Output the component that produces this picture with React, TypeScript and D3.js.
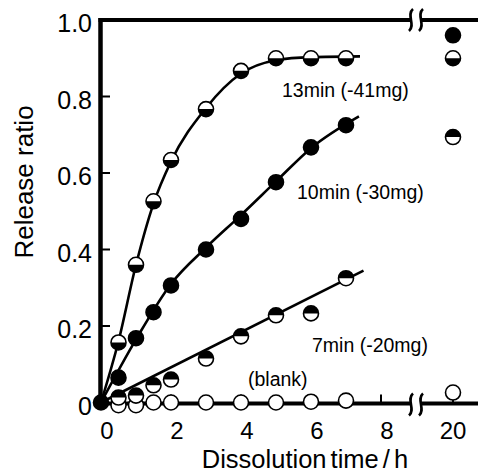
import React from "react";
import * as d3 from "d3";

// ---- data ----
const times = [0.5, 1, 1.5, 2, 3, 4, 5, 6, 7];
const longTime = 20;
const rel13 = [0.157, 0.36, 0.526, 0.634, 0.767, 0.867, 0.9, 0.9, 0.9];
const rel13Long = 0.9;
const rel10 = [0.065, 0.168, 0.236, 0.306, 0.4, 0.48, 0.576, 0.667, 0.725];
const rel10Long = 0.96;
const rel7 = [0.013, 0.018, 0.045, 0.06, 0.115, 0.173, 0.228, 0.233, 0.325];
const rel7Long = 0.694;
const relBlank = [-0.007, -0.007, 0, 0, 0, 0, 0, 0.002, 0.005];
const relBlankLong = 0.026;

const fit13T = [0, 0.5, 1, 1.5, 2, 3, 4, 5, 6, 7.4];
const fit13V = [0, 0.16, 0.36, 0.52, 0.63, 0.77, 0.86, 0.895, 0.903, 0.905];
const fit10T = [0, 1, 2, 3, 4, 5, 6, 7.37];
const fit10V = [0, 0.165, 0.31, 0.405, 0.49, 0.578, 0.665, 0.748];
const fit7T = [0, 7.5];
const fit7V = [0, 0.345];

const yTicks = [0, 0.2, 0.4, 0.6, 0.8, 1.0];
const yTickLabels = ["0", "0.2", "0.4", "0.6", "0.8", "1.0"];
const xTicks = [0, 2, 4, 6, 8];
const xTicksLong = [20];

const seriesLabels = ["13min (-41mg)", "10min (-30mg)", "7min (-20mg)", "(blank)"];

const FONT = "'Liberation Sans', Arial, Helvetica, sans-serif";

export default function App() {
  const W = 478, H = 473;
  const x = d3.scaleLinear().domain([0, 9]).range([101, 416]);
  const xR = d3.scaleLinear().domain([19, 21]).range([418, 488]);
  const y = d3.scaleLinear().domain([0, 1]).range([402.5, 20]);
  const R = 7.5;
  const breakL = 411, breakR = 421;

  const line = d3
    .line<[number, number]>()
    .x((d) => x(d[0]))
    .y((d) => y(d[1]))
    .curve(d3.curveMonotoneX);

  const fit13 = fit13T.map((t, i) => [t, fit13V[i]] as [number, number]);
  const fit10 = fit10T.map((t, i) => [t, fit10V[i]] as [number, number]);
  const fit7 = fit7T.map((t, i) => [t, fit7V[i]] as [number, number]);

  type Kind = "open" | "filled" | "bottom" | "top";
  const marker = (cx: number, cy: number, kind: Kind, key: string) => {
    const half =
      kind === "bottom"
        ? `M${-R},0 A${R},${R} 0 0 0 ${R},0 Z`
        : `M${-R},0 A${R},${R} 0 0 1 ${R},0 Z`;
    return (
      <g key={key} transform={`translate(${cx},${cy})`}>
        <circle r={R} fill={kind === "filled" ? "#000" : "#fff"} />
        {(kind === "bottom" || kind === "top") && <path d={half} fill="#000" />}
        <circle r={R} fill="none" stroke="#000" strokeWidth={1.6} />
      </g>
    );
  };

  const breakMark = (cx: number, cy: number, key: string) => (
    <path
      key={key}
      d={`M${cx + 2},${cy - 11} C${cx - 5},${cy - 5} ${cx + 5},${cy + 5} ${cx - 2},${cy + 11}`}
      fill="none"
      stroke="#000"
      strokeWidth={2.6}
    />
  );

  const yTop = y(1);
  const yBot = y(0) + 1;

  return (
    <div style={{ position: "absolute", left: 0, top: 0 }}>
      <svg width={W} height={H} style={{ display: "block", background: "#fff" }}>
        {/* fit lines */}
        <path d={line(fit13) || ""} fill="none" stroke="#000" strokeWidth={2.6} />
        <path d={line(fit10) || ""} fill="none" stroke="#000" strokeWidth={2.6} />
        <path d={line(fit7) || ""} fill="none" stroke="#000" strokeWidth={2.6} />

        {/* axes */}
        <line x1={100.5} x2={100.5} y1={yTop - 2} y2={yBot + 2} stroke="#000" strokeWidth={4.5} />
        <line x1={98.5} x2={breakL} y1={yTop} y2={yTop} stroke="#000" strokeWidth={4} />
        <line x1={breakR} x2={W} y1={yTop} y2={yTop} stroke="#000" strokeWidth={4} />
        <line x1={98.5} x2={breakL} y1={yBot} y2={yBot} stroke="#000" strokeWidth={4} />
        <line x1={breakR} x2={W} y1={yBot} y2={yBot} stroke="#000" strokeWidth={4} />
        {breakMark(breakL, yTop, "bt1")}
        {breakMark(breakR, yTop, "bt2")}
        {breakMark(breakL, yBot + 1, "bb1")}
        {breakMark(breakR, yBot + 1, "bb2")}

        {/* y ticks */}
        {yTicks.map((v, i) => (
          <g key={"yt" + i}>
            {v > 0 && v < 1 && (
              <line x1={102} x2={110} y1={y(v)} y2={y(v)} stroke="#000" strokeWidth={2} />
            )}
            <text
              x={92}
              y={y(v) + 3}
              textAnchor="end"
              dominantBaseline="central"
              fontFamily={FONT}
              fontSize={25}
            >
              {yTickLabels[i]}
            </text>
          </g>
        ))}

        {/* x ticks */}
        {xTicks.map((v) => (
          <g key={"xt" + v}>
            {v > 0 && (
              <line x1={x(v)} x2={x(v)} y1={yBot} y2={yBot - 9} stroke="#000" strokeWidth={2} />
            )}
            <text x={x(v) + 6} y={439} textAnchor="middle" fontFamily={FONT} fontSize={24}>
              {v}
            </text>
          </g>
        ))}
        {xTicksLong.map((v) => (
          <g key={"xtl" + v}>
            <line x1={xR(v)} x2={xR(v)} y1={yBot} y2={yBot - 9} stroke="#000" strokeWidth={2} />
            <text x={xR(v)} y={439} textAnchor="middle" fontFamily={FONT} fontSize={24}>
              {v}
            </text>
          </g>
        ))}

        {/* markers */}
        {relBlank.map((v, i) => marker(x(times[i]), y(v), "open", "b" + i))}
        {marker(xR(longTime), y(relBlankLong), "open", "bl")}
        {rel7.map((v, i) => marker(x(times[i]), y(v), "top", "s7" + i))}
        {marker(xR(longTime), y(rel7Long), "top", "s7l")}
        {rel10.map((v, i) => marker(x(times[i]), y(v), "filled", "s10" + i))}
        {marker(xR(longTime), y(rel10Long), "filled", "s10l")}
        {rel13.map((v, i) => marker(x(times[i]), y(v), "bottom", "s13" + i))}
        {marker(xR(longTime), y(rel13Long), "bottom", "s13l")}
        {marker(x(0), y(0), "filled", "origin")}

        {/* series labels */}
        <text x={282} y={97} fontFamily={FONT} fontSize={19.5}>{seriesLabels[0]}</text>
        <text x={297} y={199} fontFamily={FONT} fontSize={19.5}>{seriesLabels[1]}</text>
        <text x={312} y={352} fontFamily={FONT} fontSize={19.5}>{seriesLabels[2]}</text>
        <text x={248} y={386} fontFamily={FONT} fontSize={19.5}>{seriesLabels[3]}</text>

        {/* axis titles */}
        <text
          transform={`translate(33,182) rotate(-90)`}
          textAnchor="middle"
          fontFamily={FONT}
          fontSize={26}
        >
          Release ratio
        </text>
        <text x={305} y={468} textAnchor="middle" fontFamily={FONT} fontSize={25.5} wordSpacing={-3}>
          Dissolution time / h
        </text>
      </svg>
    </div>
  );
}
